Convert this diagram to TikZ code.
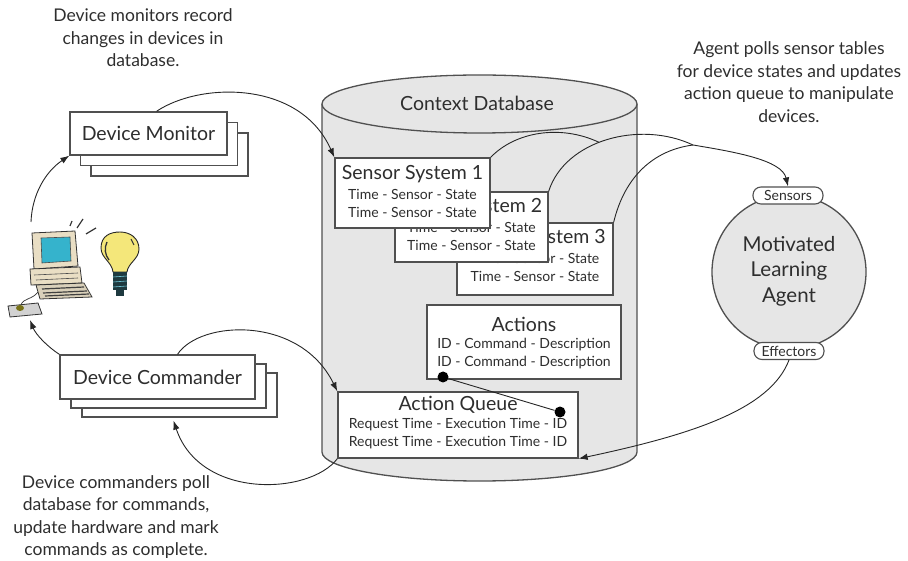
\documentclass[tikz,border=0pt]{standalone}
\usepackage{fontspec}
\setmainfont{Lato}
\usetikzlibrary{arrows.meta,calc,shadows}
\definecolor{ink}{HTML}{2E2E2E}
\definecolor{edge}{HTML}{505050}
\definecolor{dbfill}{HTML}{E6E6E6}
\definecolor{beige}{HTML}{E9DEC4}
\definecolor{screen}{HTML}{35B3CC}
\definecolor{bulb}{HTML}{F4E77A}
\definecolor{socket}{HTML}{1E3A40}
\begin{document}
\begin{tikzpicture}[x=1pt,y=-1pt,
  every node/.style={text=ink},
  note/.style={align=center, font=\fontsize{17.5}{22.5}\selectfont, inner sep=0pt},
  stack/.style 2 args={draw=edge, fill=white, line width=1.3pt, inner sep=0pt,
    font=\fontsize{19.5}{22}\selectfont,
    double copy shadow={shadow xshift=#1, shadow yshift=#2, fill=white, draw=edge, line width=1.3pt}},
  tbl/.style={draw=edge, fill=white, line width=1.3pt, inner sep=0pt},
  ttl/.style={font=\fontsize{19.5}{22}\selectfont, inner sep=0pt},
  row/.style={font=\fontsize{14}{15}\selectfont, inner sep=0pt},
  wrow/.style={font=\fontsize{14}{16}\selectfont, inner sep=0pt},
  flow/.style={line width=0.9pt, draw=black!85, -{Latex[length=9pt,width=6.5pt]}},
  link/.style={line width=0.9pt, draw=black!85},
  pill/.style={draw=edge, fill=white, rounded corners=8pt, line width=1.1pt,
    minimum width=70pt, minimum height=17pt, inner sep=0pt, font=\fontsize{14}{14}\selectfont},
  dot/.style={circle, fill=black, inner sep=0pt, minimum size=11pt}
]
\useasboundingbox (0,0) rectangle (908,561);

% ---------- annotations ----------
\node[note] (n1) at (143,38) {Device monitors record\\changes in devices in\\database.};
\node[note] (n2) at (789,82) {Agent polls sensor tables\\for device states and updates\\action queue to manipulate\\devices.};
\node[note] (n3) at (116,517) {Device commanders poll\\database for commands,\\update hardware and mark\\commands as complete.};

% ---------- context database cylinder ----------
\fill[dbfill] (322,104) -- (322,452) arc[start angle=180,end angle=360,x radius=157.5pt,y radius=29pt] -- (637,104) -- cycle;
\draw[edge, line width=1.3pt] (322,104) -- (322,452) arc[start angle=180,end angle=360,x radius=157.5pt,y radius=29pt] -- (637,104);
\draw[fill=dbfill, draw=edge, line width=1.3pt] (479.5,104) ellipse [x radius=157.5pt, y radius=29pt];
\node[ttl] (db) at (477,103) {Context Database};

% ---------- sensor tables ----------
\node[tbl, minimum width=156pt, minimum height=72pt] (s3) at (535,259) {};
\node[ttl] at ($(s3.north)+(0,16)$) {Sensor System 3};
\node[row] at ($(s3.north)+(0,36)$) {Time - Sensor - State};
\node[row] at ($(s3.north)+(0,54)$) {Time - Sensor - State};

\node[tbl, minimum width=153pt, minimum height=70pt] (s2) at (471.5,227) {};
\node[ttl] at ($(s2.north)+(0,16)$) {Sensor System 2};
\node[row] at ($(s2.north)+(0,36)$) {Time - Sensor - State};
\node[row] at ($(s2.north)+(0,54)$) {Time - Sensor - State};

\node[tbl, minimum width=155pt, minimum height=70pt] (s1) at (412.5,193) {};
\node[ttl] at ($(s1.north)+(0,17)$) {Sensor System 1};
\node[row] at ($(s1.north)+(0,37)$) {Time - Sensor - State};
\node[row] at ($(s1.north)+(0,55)$) {Time - Sensor - State};

% ---------- action tables ----------
\node[tbl, minimum width=194pt, minimum height=74pt] (act) at (524,342) {};
\node[ttl] at ($(act.north)+(0,20)$) {Actions};
\node[wrow] at ($(act.north)+(0,40)$) {ID - Command - Description};
\node[wrow] at ($(act.north)+(0,58)$) {ID - Command - Description};

\node[tbl, minimum width=240pt, minimum height=66pt] (aq) at (458,425) {};
\node[ttl] at ($(aq.north)+(0,13)$) {Action Queue};
\node[wrow] at ($(aq.north)+(0,33)$) {Request Time - Execution Time - ID};
\node[wrow] at ($(aq.north)+(0,51)$) {Request Time - Execution Time - ID};

% ID reference between the two tables
\node[dot] (idA) at (443,377) {};
\node[dot] (idB) at (560,412) {};
\draw[link] (idA) -- (idB);

% ---------- device processes ----------
\node[stack={10.5pt}{-10.5pt}, minimum width=157pt, minimum height=43pt] (mon) at (148.5,133.5) {Device Monitor};
\node[stack={11pt}{-9pt}, minimum width=195pt, minimum height=44pt] (cmd) at (157.5,377) {Device Commander};

% ---------- agent ----------
\draw[fill=dbfill, draw=edge, line width=1.3pt] (789,272) circle [radius=77pt];
\node[font=\fontsize{20.5}{25.5}\selectfont, align=center, inner sep=0pt] (agent) at (789,271) {Motivated\\Learning\\Agent};
\node[pill] (sens) at (788,195.5) {Sensors};
\node[pill] (eff) at (789,351) {Effectors};

% ---------- computer and bulb ----------
\draw[fill=beige, draw=black!80, line width=0.8pt] (32,233) -- (75,231) -- (78,266) -- (34,269) -- cycle;
\draw[fill=screen, draw=black!70, line width=0.6pt] (41,238) -- (70,237) -- (71,261) -- (42,263) -- cycle;
\draw[fill=beige, draw=black!80, line width=0.8pt] (30,269) -- (80,267) -- (82,283) -- (31,285) -- cycle;
\draw[black!70, line width=0.6pt] (34,275) -- (78,273) (36,280) -- (78,278);
\draw[fill=beige!85!gray, draw=black!80, line width=0.8pt] (36,285) -- (84,283) -- (92,297) -- (40,299) -- cycle;
\draw[black!75, line width=1.2pt] (42,289) -- (84,287) (43,293) -- (87,291) (45,296) -- (89,294);
\draw[fill=gray!35, draw=black!80, line width=0.8pt] (8,306) -- (38,303) -- (42,314) -- (10,317) -- cycle;
\fill[olive!80!black] (20,308) ellipse [x radius=4pt, y radius=3pt];
\draw[black!80, line width=0.7pt] (21,305) .. controls (23,298) and (32,300) .. (38,292);
\draw[black!80, line width=1.2pt] (70,226) -- (72,221) (77,228) -- (83,219) (86,234) -- (96,228);
\draw[fill=bulb, draw=black!85, line width=0.9pt] (113,272) .. controls (112,262) and (101,258) .. (101,248)
  .. controls (101,236) and (110,232) .. (120,232) .. controls (130,232) and (139,238) .. (139,249)
  .. controls (139,259) and (128,263) .. (127,272) -- cycle;
\draw[black!80, line width=1.3pt] (107,242) .. controls (104,248) and (105,255) .. (109,260);
\draw[black!80, line width=1pt] (131,239) -- (134,245);
\fill[socket] (113,272) rectangle (127,290);
\fill[socket] (116,290) rectangle (124,296);
\draw[screen!70, line width=0.6pt] (113,277) -- (127,276) (113,282) -- (127,281) (113,287) -- (127,286);
\coordinate (pc) at (31,222);
\coordinate (mouse) at (30,320);

% ---------- connectors ----------
\draw[flow] ($(mon.north)+(8,0)$) .. controls (200,82) and (300,80) .. (s1.north west);
\draw[flow] (pc) .. controls (32,195) and (45,172) .. (mon.south west);
\draw[flow] (cmd.north west) .. controls (48,347) and (36,335) .. (mouse);
\draw[flow] ($(cmd.north)+(20,0)$) .. controls (200,320) and (300,315) .. (aq.north west);
\draw[flow] (aq.south west) .. controls (310,495) and (200,500) .. ($(cmd.south)+(16,21)$);

% sensor tables feeding the agent's sensors
\path (s2.north east) .. controls (565,140) and (640,120) .. (693,145) coordinate[pos=0.45] (j1);
\coordinate (j2) at (693,145);
\draw[link] (s2.north east) .. controls (565,140) and (640,120) .. (j2);
\draw[link] (s1.north east) .. controls (515,132) and (560,124) .. (j1);
\draw[link] (s3.north east) .. controls (625,175) and (655,150) .. (j2);
\draw[flow] (j2) .. controls (735,152) and (782,160) .. (sens.north);

% effectors writing the action queue
\draw[flow] (eff.south) .. controls (770,410) and (690,435) .. (aq.south east);
\end{tikzpicture}
\end{document}
